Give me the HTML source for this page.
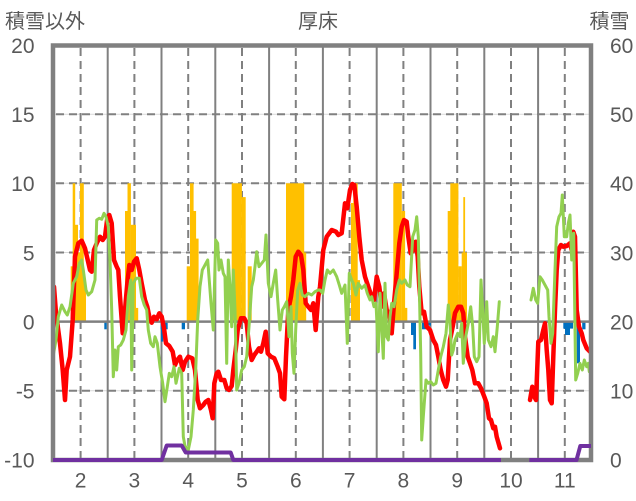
<!DOCTYPE html>
<html><head><meta charset="utf-8"><style>
html,body{margin:0;padding:0;background:#fff;}
svg{display:block;}
text{font-family:"Liberation Sans","Noto Sans CJK JP",sans-serif;fill:#595959;}
</style></head><body>
<svg width="636" height="501" viewBox="0 0 636 501" xmlns="http://www.w3.org/2000/svg">
<rect width="636" height="501" fill="#fff"/>
<g stroke="#d9d9d9" stroke-width="1">
<line x1="55" y1="114.2" x2="589" y2="114.2"/>
<line x1="55" y1="183.3" x2="589" y2="183.3"/>
<line x1="55" y1="252.5" x2="589" y2="252.5"/>
<line x1="55" y1="390.8" x2="589" y2="390.8"/>
</g>
<g stroke="#808080" stroke-width="2" stroke-dasharray="8,5">
<line x1="56" y1="114.2" x2="589" y2="114.2"/>
<line x1="56" y1="183.3" x2="589" y2="183.3"/>
<line x1="56" y1="252.5" x2="589" y2="252.5"/>
<line x1="56" y1="390.8" x2="589" y2="390.8"/>
<line x1="80.6" y1="48" x2="80.6" y2="458"/>
<line x1="134.4" y1="48" x2="134.4" y2="458"/>
<line x1="188.2" y1="48" x2="188.2" y2="458"/>
<line x1="242" y1="48" x2="242" y2="458"/>
<line x1="295.8" y1="48" x2="295.8" y2="458"/>
<line x1="349.6" y1="48" x2="349.6" y2="458"/>
<line x1="403.4" y1="48" x2="403.4" y2="458"/>
<line x1="457.2" y1="48" x2="457.2" y2="458"/>
<line x1="511" y1="48" x2="511" y2="458"/>
<line x1="564.8" y1="48" x2="564.8" y2="458"/>
</g>
<g stroke="#808080" stroke-width="2">
<line x1="107.7" y1="46" x2="107.7" y2="460"/>
<line x1="161.5" y1="46" x2="161.5" y2="460"/>
<line x1="215.3" y1="46" x2="215.3" y2="460"/>
<line x1="269.1" y1="46" x2="269.1" y2="460"/>
<line x1="322.9" y1="46" x2="322.9" y2="460"/>
<line x1="376.7" y1="46" x2="376.7" y2="460"/>
<line x1="430.5" y1="46" x2="430.5" y2="460"/>
<line x1="484.3" y1="46" x2="484.3" y2="460"/>
<line x1="538.1" y1="46" x2="538.1" y2="460"/>
</g>
<g fill="#FFC000">
<rect x="70.7" y="266.3" width="2.3" height="55.3"/>
<rect x="72.7" y="183.3" width="2.5" height="138.3"/>
<rect x="75" y="224.8" width="3" height="96.8"/>
<rect x="78" y="252.5" width="2" height="69.1"/>
<rect x="80" y="183.3" width="3.8" height="138.3"/>
<rect x="83.5" y="280" width="2.5" height="41.6"/>
<rect x="125" y="211" width="2.8" height="110.6"/>
<rect x="127.5" y="183.3" width="3.4" height="138.3"/>
<rect x="130.7" y="224.8" width="5.3" height="96.8"/>
<rect x="136" y="307.9" width="2.2" height="13.7"/>
<rect x="186.7" y="266.3" width="3.5" height="55.3"/>
<rect x="190" y="183.3" width="3.6" height="138.3"/>
<rect x="193.5" y="211" width="2.6" height="110.6"/>
<rect x="196" y="238.6" width="2.6" height="83"/>
<rect x="231.7" y="183.3" width="10.2" height="138.3"/>
<rect x="241.7" y="197.1" width="4" height="124.5"/>
<rect x="247.7" y="266.3" width="4" height="55.3"/>
<rect x="286" y="183.3" width="18.2" height="138.3"/>
<rect x="304" y="252.5" width="2.2" height="69.1"/>
<rect x="351" y="203" width="2.5" height="118.6"/>
<rect x="353.3" y="183.3" width="4.4" height="138.3"/>
<rect x="357.5" y="280.1" width="2.5" height="41.5"/>
<rect x="393.3" y="183.3" width="8.5" height="138.3"/>
<rect x="401.7" y="211" width="3.4" height="110.6"/>
<rect x="405" y="307.9" width="2.3" height="13.7"/>
<rect x="447.7" y="211" width="2.8" height="110.6"/>
<rect x="450.3" y="183.3" width="8.1" height="138.3"/>
<rect x="458.3" y="266.3" width="3.5" height="55.3"/>
<rect x="461.7" y="252.5" width="1.8" height="69.1"/>
<rect x="463.3" y="197.1" width="1.8" height="124.5"/>
<rect x="465" y="252.5" width="2" height="69.1"/>
</g>
<g fill="#0070C0">
<rect x="104.3" y="321.6" width="2.4" height="7.7"/>
<rect x="160.5" y="321.6" width="5" height="7.7"/>
<rect x="161" y="321.6" width="2.3" height="20"/>
<rect x="165" y="321.6" width="2.7" height="7.7"/>
<rect x="181.7" y="321.6" width="3.3" height="7.7"/>
<rect x="411" y="321.6" width="5" height="13.4"/>
<rect x="413.3" y="321.6" width="2.7" height="27.7"/>
<rect x="422" y="321.6" width="4" height="7.7"/>
<rect x="427.7" y="321.6" width="3.3" height="4"/>
<rect x="563.3" y="321.6" width="9.7" height="7"/>
<rect x="565" y="321.6" width="5" height="13.4"/>
<rect x="576.7" y="321.6" width="3.3" height="41.7"/>
<rect x="582.2" y="321.6" width="3.3" height="7.7"/>
</g>
<line x1="55" y1="321.6" x2="589" y2="321.6" stroke="#808080" stroke-width="2.5"/>
<g fill="none" stroke="#FF0000" stroke-width="4.5" stroke-linejoin="round" stroke-linecap="round">
<polyline points="54,286.7 56,313.3 60,343.3 62.7,370 65,400 66.7,370 70,356.7 72.7,320 75,256.7 78.3,243.3 81.7,240.7 85,248.3 87.3,258.3 90,270 91.7,271.7 94,250 96.7,243.3 100,236.7 102.7,240 105,236.7 107.3,218.3 109.3,215 111.7,223.3 114,260 116.7,266.7 118.3,270 120,296.7 122.7,333.3 125,310 127.3,283.3 129.3,265 131.7,270 134,261.7 136.7,258.3 139.3,270 141.7,283.3 145,300 147.3,306.7 150,320 151.7,322.7 154,316.7 156.7,319.3 159.3,313.3 161.7,316.7 164,328.3 166,343.3 169.3,346 172.7,351.7 175,365 177.3,360 180,356.7 182.7,370 185,361.7 188.3,356.7 192.3,358.3 195,370 197.7,400 200,408.3 203.3,405 205.7,401.7 208.3,400 211,410 212.7,418.3 214.3,383.3 216.7,373.3 218.3,371.7 221,380 224.3,380 226.7,388.3 229,390 231.7,386 233.3,370 235.7,350 237.7,330 241,318.3 244.3,318.3 246.7,323.3 249,346.7 251.7,360 254.3,355 256.7,351.7 259,348.3 261,351.7 263.3,343.3 265.7,331.7 267.7,353.3 271,356.7 274.3,358.3 277.7,366.7 280,373.3 281.7,396.7 284.3,399.3 286,356.7 288.3,310 291,296.7 293.3,280 295.7,256.7 298.3,251.7 301,255 303.3,270 305.7,303.3 308.3,306.7 311,310 313.3,303.3 315.7,330 318.3,296.7 320,286.7 323.3,250 326.7,236.7 331.7,230 336,231.7 338.3,235 341.7,233.3 345,203.3 347.3,208.3 350,190 352.3,184 354.3,185 356.7,206.7 359.3,236.7 361.7,260 365,276.7 368.3,286.7 371.7,296.7 374,300 376.7,276.7 379.3,286.7 381.7,306.7 384,293.3 386.7,310 389.3,313.3 391.7,333.3 394,303.3 396.7,273.3 399.3,243.3 401.7,226.7 404,220 406.7,221.7 408.3,236.7 410.7,253.3 413.3,250 415.7,241.7 417.7,256.7 419.3,286.7 421.7,313.3 424,311.7 426.7,326.7 430,330 433.3,340 436,345 438.3,356.7 440.7,370 443.3,380 446,386.7 447.7,380 450,340 452.7,326.7 455,313 458.3,306.7 461,306.7 463.3,313.3 465,336.7 467.7,356.7 470,363.3 472.3,370 475,383.3 478.3,383.3 481,388.3 484.3,396.7 486.7,403.3 489,418.3 491,420 493.3,428.3 495,426.7 496.7,436.7 500,448.3"/>
<polyline points="530,400 532.3,386.7 534.3,396.7 536,400 538.3,341.7 541,340 543.3,330 545,323.3 546.7,350 548.3,370 550,400 551.7,403.3 553.3,356.7 555,310 556.7,270 558.3,250 561,245 563.3,246.7 566.7,246 570,243.3 571.7,250 573.3,231.7 575,236.7 576.7,310 579,326.7 581.7,333.3 583.3,340 586.7,348.3 590,351.7"/>
</g>
<g fill="none" stroke="#92D050" stroke-width="3" stroke-linejoin="round" stroke-linecap="round">
<polyline points="53.3,355 56,340 58.3,316.7 61.7,305 65,311.7 67.3,315 70,306.7 73.3,283.3 76.7,276.7 79.3,263.3 81.7,260 83.3,270 86,290 88.3,295 91.7,291.7 95,280 96.7,220 99.3,218.3 101.7,219.3 104,213.3 106,216.7 108.3,226.7 110,260 111.7,310 113.3,376.7 115,350 116.7,370 118.3,346.7 120.7,345 123.3,340 126,330 128.3,296.7 130.7,280 131.7,370 133.3,283.3 136,278.3 139.3,278.3 141.7,296.7 144.3,305 146.7,310 148.3,330 150.7,343.3 153.3,346.7 155,336.7 157.3,343.3 160,366.7 162.7,383.3 165,401.7 167.3,386.7 169.3,373.3 171.7,376.7 174,366.7 176,383.3 179.3,368.3 181.7,373.3 183.3,436.7 185,446 188.3,450 191,436.7 193.3,410 195.7,370 197.7,320 200,286.7 202.3,270 205,265 207.7,260 209,276.7 211,303.3 213.3,330 215.7,240 217.7,243.3 219,270 221,260 223.3,273.3 225,276.7 226.7,363.3 228.3,260 230,286.7 231.7,326.7 233.3,270 235,310 236.7,390 239,383.3 241.7,370 244.3,366.7 246.7,356.7 249,326.7 251.7,286.7 253.3,280 255,266.7 256.7,251.7 259,266.7 261.7,263.3 264.3,260 266,235 268.3,283.3 271,296.7 273.3,283.3 275.7,270 277.7,300 280,330 282.3,310 284.3,306.7 286.7,301.7 289,336.7 291,306.7 292.3,353.3 294,373.3 295.7,330 297.7,290 300,283.3 302.3,295 305,296.7 308.3,293.3 311.7,295 315,291.7 318.3,290 320,290 322.7,293.3 325,280 327.3,270 330,273.3 333.3,270 336.7,276.7 339.3,285 341.7,293.3 345,285 347.3,343.3 349.3,273.3 351.7,280 353.3,283.3 356,295 358.3,283.3 361.7,288.3 365,285 367.3,293.3 370,300 371.7,296.7 374,306.7 376,303.3 378.3,351.7 380,293.3 381.7,326.7 383.3,358.3 385,283.3 386.7,336.7 388.3,340 390,316.7 391.7,303.3 394,306.7 396.7,290 399.3,280 401.7,283.3 405,280 407.3,285 410,286.7 412.7,236.7 415,230 416.7,216.7 418.3,236.7 419.3,286.7 420.7,353.3 421.7,440 423.3,416.7 426,380 428.3,383.3 430.7,381.7 433.3,385 436,383.3 438.3,370 440.7,356.7 443.3,346.7 446,333.3 448.3,305 450,323.3 451.7,355 453.3,350 455,340 457.7,333.3 460,336.7 461.7,323.3 463.3,363.3 465.7,336.7 468.3,323.3 470.7,306.7 472.7,326.7 474.3,356.7 476.7,361.7 479,356.7 481,280 482.7,310 484.3,343.3 486.7,301.7 488.3,340 491,346.7 493.3,336.7 495,351.7 497.3,326.7 499.3,301.7"/>
<polyline points="531,300 533.3,288.3 535.7,300 537.7,303.3 540,276.7 542.3,280 545,285 547.7,290 549,316.7 551,343.3 552.7,333.3 555,270 556.7,226.7 559,216.7 561,213.3 562.3,195 564.3,236.7 566.7,236.7 568.3,223.3 570,215 571.7,260 573.7,233.3 575.7,380 577.7,373.3 580,363.3 582.3,370 584.3,360 586.7,366.7 588.3,363.3 589.3,371.7"/>
</g>
<rect x="53" y="45.5" width="538" height="414.5" fill="none" stroke="#808080" stroke-width="4.5"/>
<g fill="none" stroke="#7030A0" stroke-width="4" stroke-linejoin="round">
<polyline points="53,460 161.7,460 166.7,445.5 181.7,445.5 185.7,452.5 230.7,452.5 233.3,460 501,460"/>
<polyline points="529.3,460 576.5,460 580.3,446 591,446"/>
</g>
<g font-size="21" text-anchor="end">
<text x="34.5" y="53">20</text>
<text x="34.5" y="122">15</text>
<text x="34.5" y="191.2">10</text>
<text x="34.5" y="260.3">5</text>
<text x="34.5" y="329.4">0</text>
<text x="34.5" y="398.6">-5</text>
<text x="34.5" y="467.5">-10</text>
</g>
<g font-size="21" text-anchor="start">
<text x="610" y="53">60</text>
<text x="610" y="122">50</text>
<text x="610" y="191.2">40</text>
<text x="610" y="260.3">30</text>
<text x="610" y="329.4">20</text>
<text x="610" y="398.6">10</text>
<text x="610" y="467.5">0</text>
</g>
<g font-size="21" text-anchor="middle">
<text x="80.6" y="487.5">2</text>
<text x="134.4" y="487.5">3</text>
<text x="188.2" y="487.5">4</text>
<text x="242" y="487.5">5</text>
<text x="295.8" y="487.5">6</text>
<text x="349.6" y="487.5">7</text>
<text x="403.4" y="487.5">8</text>
<text x="457.2" y="487.5">9</text>
<text x="511" y="487.5">10</text>
<text x="564.8" y="487.5">11</text>
</g>
<g font-size="20">
<text x="5" y="28">積雪以外</text>
<text x="298" y="28">厚床</text>
<text x="589.5" y="28">積雪</text>
</g>
</svg>
</body></html>
